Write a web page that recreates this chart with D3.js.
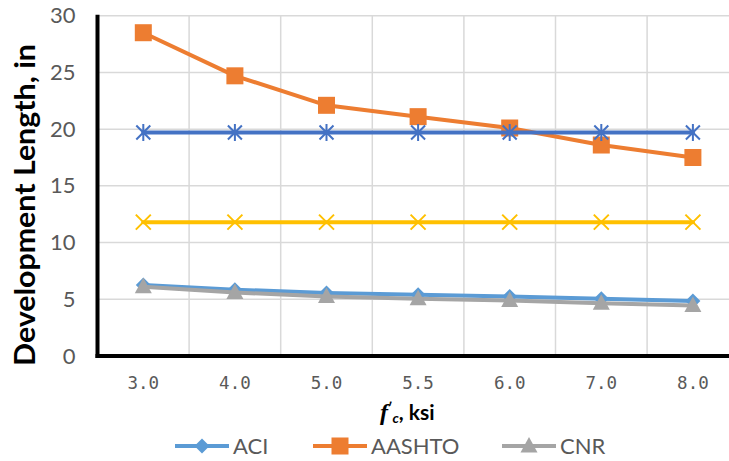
<!DOCTYPE html>
<html>
<head>
<meta charset="utf-8">
<script src="https://cdn.jsdelivr.net/npm/d3@7"></script>
<style>
  html, body { margin: 0; padding: 0; background: #fff; }
  svg { display: block; }
</style>
</head>
<body>
<svg id="chart" width="729" height="461"></svg>
<script>
// Concrete strength categories (ksi)
const categories = ["3.0", "4.0", "5.0", "5.5", "6.0", "7.0", "8.0"];

// Development length, in
const aciValues    = [6.25, 5.85, 5.55, 5.4, 5.25, 5.05, 4.85];
const aashtoValues = [28.5, 24.7, 22.1, 21.1, 20.1, 18.6, 17.5];
const cnrValues    = [6.1, 5.6, 5.25, 5.05, 4.9, 4.65, 4.45];
const starValues   = [19.7, 19.7, 19.7, 19.7, 19.7, 19.7, 19.7];
const crossValues  = [11.8, 11.8, 11.8, 11.8, 11.8, 11.8, 11.8];

const yTicks = [0, 5, 10, 15, 20, 25, 30];
const legendNames = ["ACI", "AASHTO", "CNR"];

const svg = d3.select("#chart");
const plotLeft = 97.5, plotRight = 738.7, plotTop = 15.7, plotBottom = 356;

const x = d3.scaleBand().domain(categories).range([plotLeft, plotRight]).padding(0);
const y = d3.scaleLinear().domain([0, 30]).range([plotBottom, plotTop]);
const cx = c => x(c) + x.bandwidth() / 2;

// gridlines
const grid = svg.append("g").attr("stroke", "#d9d9d9").attr("stroke-width", 1.5);
yTicks.filter(t => t > 0).forEach(t => {
  grid.append("line").attr("x1", plotLeft).attr("x2", 729).attr("y1", y(t)).attr("y2", y(t));
});
categories.slice(1).forEach(c => {
  grid.append("line").attr("x1", x(c)).attr("x2", x(c)).attr("y1", plotTop).attr("y2", plotBottom);
});

// y axis
const yAxis = d3.axisLeft(y).tickValues(yTicks).tickSize(0).tickPadding(22);
const gy = svg.append("g").attr("transform", `translate(${plotLeft},0)`).call(yAxis);
gy.select(".domain").remove();
gy.selectAll("text").attr("font-family", "Lato, 'Open Sans', sans-serif")
  .attr("font-size", 22).attr("fill", "#595959");

// x axis
const xAxis = d3.axisBottom(x).tickSize(0).tickPadding(21);
const gx = svg.append("g").attr("transform", `translate(0,${plotBottom})`).call(xAxis);
gx.select(".domain").remove();
gx.selectAll("text").attr("font-family", "'DejaVu Sans Mono', monospace")
  .attr("font-size", 17.5).attr("fill", "#595959");

// axis lines
svg.append("line").attr("x1", plotLeft).attr("x2", plotLeft).attr("y1", plotTop - 1).attr("y2", plotBottom + 2)
  .attr("stroke", "#000").attr("stroke-width", 4);
svg.append("line").attr("x1", plotLeft - 2).attr("x2", 729).attr("y1", plotBottom).attr("y2", plotBottom)
  .attr("stroke", "#000").attr("stroke-width", 4);

// marker painters
const markers = {
  diamond: (g, px, py, color) => g.append("path")
    .attr("d", `M${px},${py - 7.5}L${px + 7.5},${py}L${px},${py + 7.5}L${px - 7.5},${py}Z`)
    .attr("fill", color),
  square: (g, px, py, color) => g.append("rect")
    .attr("x", px - 8.5).attr("y", py - 8.5).attr("width", 17).attr("height", 17)
    .attr("fill", color),
  triangle: (g, px, py, color) => g.append("path")
    .attr("d", `M${px},${py - 9}L${px + 8.5},${py + 6.5}L${px - 8.5},${py + 6.5}Z`)
    .attr("fill", color),
  star: (g, px, py, color) => g.append("path")
    .attr("d", `M${px - 7},${py - 7}L${px + 7},${py + 7}M${px + 7},${py - 7}L${px - 7},${py + 7}M${px},${py - 8.5}L${px},${py + 8.5}`)
    .attr("stroke", color).attr("stroke-width", 2).attr("fill", "none"),
  cross: (g, px, py, color) => g.append("path")
    .attr("d", `M${px - 7.5},${py - 7.5}L${px + 7.5},${py + 7.5}M${px + 7.5},${py - 7.5}L${px - 7.5},${py + 7.5}`)
    .attr("stroke", color).attr("stroke-width", 2).attr("fill", "none")
};

const series = [
  { values: aciValues,    color: "#5b9bd5", marker: "diamond" },
  { values: aashtoValues, color: "#ed7d31", marker: "square" },
  { values: cnrValues,    color: "#a5a5a5", marker: "triangle" },
  { values: starValues,   color: "#4472c4", marker: "star" },
  { values: crossValues,  color: "#ffc000", marker: "cross" }
];

const line = d3.line().x((d, i) => cx(categories[i])).y(d => y(d));

series.forEach(s => {
  const g = svg.append("g");
  g.append("path").datum(s.values).attr("d", line)
    .attr("fill", "none").attr("stroke", s.color).attr("stroke-width", 4)
    .attr("stroke-linejoin", "round").attr("stroke-linecap", "round");
  s.values.forEach((v, i) => markers[s.marker](g, cx(categories[i]), y(v), s.color));
});

// y axis title
svg.append("text")
  .attr("transform", "translate(35,205) rotate(-90)")
  .attr("text-anchor", "middle")
  .attr("font-family", "Lato, 'Open Sans', sans-serif").attr("font-weight", "bold")
  .attr("font-size", 28).attr("fill", "#000")
  .attr("textLength", 322).attr("lengthAdjust", "spacingAndGlyphs")
  .text("Development Length, in");

// x axis title: f'c, ksi
const xt = svg.append("text")
  .attr("x", 380).attr("y", 420)
  .attr("font-family", "Lato, 'Open Sans', sans-serif").attr("font-weight", "bold")
  .attr("font-size", 21).attr("fill", "#000");
xt.append("tspan").attr("font-style", "italic").attr("font-family", "'Liberation Serif', serif").attr("font-size", 24).text("f");
xt.append("tspan").attr("dy", -8).attr("font-size", 13).text("′");
xt.append("tspan").attr("dy", 11).attr("font-style", "italic").attr("font-size", 14).text("c");
xt.append("tspan").attr("dy", -3).text(", ksi");

// legend
const legendX = [175, 313, 502];
const legendY = 446;
legendNames.forEach((name, i) => {
  const s = series[i];
  const g = svg.append("g");
  g.append("line").attr("x1", legendX[i]).attr("x2", legendX[i] + 54)
    .attr("y1", legendY).attr("y2", legendY)
    .attr("stroke", s.color).attr("stroke-width", 4);
  markers[s.marker](g, legendX[i] + 27, legendY, s.color);
  g.append("text").attr("x", legendX[i] + 58).attr("y", legendY + 8)
    .attr("font-family", "Lato, 'Open Sans', sans-serif").attr("font-size", 22)
    .attr("fill", "#595959").text(name);
});
</script>
</body>
</html>
